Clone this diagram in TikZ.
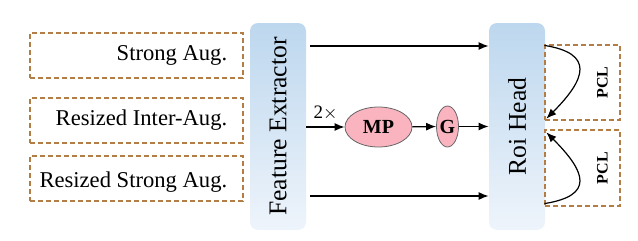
\documentclass[tikz,border=0pt]{standalone}
\usepackage{fontspec}
\setmainfont{Liberation Serif}
\usepackage{tikz}
\usetikzlibrary{arrows.meta, positioning, shapes.geometric, calc}
\definecolor{augbrown}{RGB}{178,126,69}
\definecolor{headblue}{RGB}{189,215,238}
\definecolor{headlight}{RGB}{238,244,251}
\definecolor{mppink}{RGB}{249,180,192}

\begin{document}
\begin{tikzpicture}[
    x=0.5pt, y=-0.5pt,
    augbox/.style={
        rectangle, draw=augbrown, dashed, line width=0.6pt,
        dash pattern=on 2.5pt off 1.5pt,
        minimum height=22.5pt, minimum width=106.5pt
    },
    augtxt/.style={
        inner sep=0pt, font=\fontsize{11.3}{13}\selectfont
    },
    headbox/.style={
        rectangle, rounded corners=4pt,
        minimum width=28pt, minimum height=103.5pt,
        top color=headblue, bottom color=headlight,
        draw=none
    },
    headtxt/.style={
        rotate=90, font=\fontsize{12.8}{14}\selectfont
    },
    blob/.style={
        ellipse, draw=black!60, fill=mppink, inner sep=0pt,
        font=\fontsize{10}{12}\selectfont\bfseries
    },
    pclbox/.style={
        rectangle, draw=augbrown, dashed, line width=0.6pt,
        dash pattern=on 2.5pt off 1.5pt,
        minimum width=37.5pt
    },
    pcltxt/.style={
        rotate=90, font=\fontsize{8}{10}\selectfont\bfseries
    },
    arrow/.style={
        -{Latex[length=5pt, width=4pt]}, line width=0.6pt, black
    }
]
\useasboundingbox (0,0) rectangle (638,241);

% inputs
\node[augbox] (strong) at (136.5,55.5) {};
\node[augtxt, left=8pt of strong.east] (strongtxt) {Strong Aug.};
\node[augbox] (inter) at (136.5,120.5) {};
\node[augtxt, left=8pt of inter.east] (intertxt) {Resized Inter-Aug.};
\node[augbox] (rstrong) at (136.5,178.5) {};
\node[augtxt, left=8pt of rstrong.east, yshift=-2pt] (rstrongtxt) {Resized Strong Aug.};

% backbone and head
\node[headbox] (fe) at (278,126.5) {};
\node[headtxt] (fetxt) at (fe.center) {Feature Extractor};
\node[headbox] (roi) at (517,126.5) {};
\node[headtxt] (roitxt) at (roi.center) {Roi Head};

% mixing branch
\node[blob, minimum width=33.5pt, minimum height=20pt] (mp) at (378.5,127) {MP};
\node[blob, minimum width=10.5pt, minimum height=20.5pt] (g) at (447.5,126.5) {G};

% PCL boxes
\node[pclbox, minimum height=37.5pt] (pcl1) at (582.5,82.5) {};
\node[pcltxt] (pcl1txt) at ([xshift=10pt]pcl1.center) {PCL};
\node[pclbox, minimum height=38pt] (pcl2) at (582.5,168) {};
\node[pcltxt] (pcl2txt) at ([xshift=10pt]pcl2.center) {PCL};

\draw[arrow] ([xshift=2pt, yshift=40.25pt]fe.east) -- ([yshift=40.25pt]roi.west);
\draw[arrow] ([xshift=2pt, yshift=-34.75pt]fe.east) -- ([yshift=-34.75pt]roi.west);
\draw[arrow] (fe.east |- mp.west) -- node[above, midway, font=\fontsize{9.5}{11}\selectfont] {2$\times$} (mp.west);
\draw[arrow] (mp) -- (g);
\draw[arrow] (g) -- (roi.west |- g.east);

\draw[arrow] ([yshift=-0.5pt]pcl1.north west) .. controls +(25pt,-4pt) and +(20pt,20pt) .. ([xshift=1pt, yshift=1pt]pcl1.south west);
\draw[arrow] ([yshift=1.5pt]pcl2.south west) .. controls +(25pt,4pt) and +(20pt,-20pt) .. ([xshift=1pt, yshift=-1.5pt]pcl2.north west);

\end{tikzpicture}
\end{document}
